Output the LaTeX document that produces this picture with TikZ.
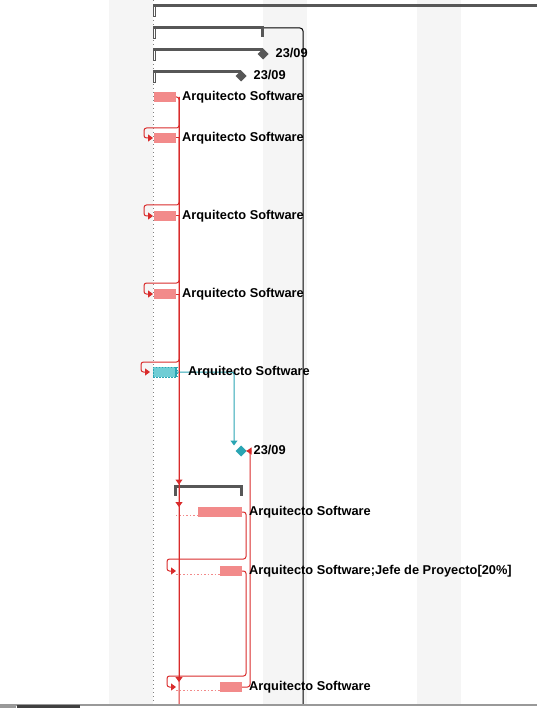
\documentclass[tikz,border=0pt]{standalone}
\usepackage{fontspec}
\setmainfont{Liberation Sans}
\usetikzlibrary{positioning,calc,arrows.meta,shapes.geometric}

\definecolor{stripegray}{HTML}{F5F5F5}
\definecolor{sumgray}{HTML}{575757}
\definecolor{barpink}{HTML}{F28A8A}
\definecolor{depred}{HTML}{D92B2B}
\definecolor{tealfill}{HTML}{6FCDD5}
\definecolor{tealdark}{HTML}{2AA5B3}

\tikzset{
  sumbar/.style={rectangle, fill=sumgray, minimum height=3pt, inner sep=0pt, outer sep=0pt},
  taskbar/.style={rectangle, fill=barpink, minimum height=10pt, inner sep=0pt, outer sep=0pt},
  milestone/.style={diamond, fill=sumgray, minimum size=11pt, inner sep=0pt, outer sep=0pt},
  lbl/.style={font=\fontsize{12.8}{14}\selectfont\bfseries, inner sep=0pt},
  depline/.style={draw=depred, line width=1pt, rounded corners=2.5pt},
  dep/.style={depline, -{Triangle[length=5pt,width=7pt]}},
  tealdep/.style={draw=tealdark, line width=1pt, rounded corners=2.5pt, -{Triangle[length=5pt,width=7pt]}},
  slack/.style={draw=barpink, line width=1pt, dash pattern=on 1.5pt off 2pt},
}

\begin{document}
\begin{tikzpicture}[x=1pt, y=-1pt]
    \useasboundingbox (0,0) rectangle (537,708);
    \foreach \x in {109,263,417}
        \fill[stripegray] (\x,0) rectangle ++(44,704);
    \draw[gray, line width=1pt, dash pattern=on 1pt off 3pt] (153.5,0) -- (153.5,704);

    \node[sumbar, anchor=west, minimum width=384pt] (sum1) at (153,6) {};
    \node[sumbar, anchor=west, minimum width=111pt] (sum2) at (153,28) {};
    \node[sumbar, anchor=west, minimum width=110pt] (sum3) at (153,50) {};
    \node[sumbar, anchor=west, minimum width=88pt] (sum4) at (153,72) {};
    \draw[sumgray, line width=0.8pt] (sum1.west) rectangle ++(2.5,10);
    \draw[sumgray, line width=0.8pt] (sum2.west) rectangle ++(2.5,10);
    \draw[sumgray, line width=0.8pt] (sum3.west) rectangle ++(2.5,10);
    \draw[sumgray, line width=0.8pt] (sum4.west) rectangle ++(2.5,10);
    \fill[sumgray] (sum2.east) rectangle ++(-3,9);

    \coordinate (rightend) at (303,704);
    \draw[line width=1pt, rounded corners=3pt] (sum2.east) -| (rightend);

    \node[milestone] (m3) at (263,54) {};
    \node[lbl, right=7pt of m3, yshift=1.5pt] {23/09};
    \node[milestone] (m4) at (241,76) {};
    \node[lbl, right=7pt of m4, yshift=1.5pt] {23/09};

    \node[taskbar, anchor=west, minimum width=22pt] (t5) at (154,97) {};
    \node[taskbar, anchor=west, minimum width=22pt] (t6) at (154,138) {};
    \node[taskbar, anchor=west, minimum width=22pt] (t7) at (154,216) {};
    \node[taskbar, anchor=west, minimum width=22pt] (t8) at (154,294) {};
    \node[taskbar, anchor=west, minimum width=24pt, fill=tealfill, draw=tealdark,
          line width=1pt, dash pattern=on 1.5pt off 1.5pt] (t9) at (153,372) {};
    \draw[tealdark, line width=2.5pt] ([xshift=-1.2pt]t9.north east) -- ([xshift=-1.2pt]t9.south east);

    \node[milestone, fill=tealdark] (m10) at (241,451) {};
    \node[lbl, right=7pt of m10, yshift=1pt] {23/09};

    \node[sumbar, anchor=west, minimum width=69pt] (sum11) at (174,486) {};
    \fill[sumgray] (sum11.west) rectangle ++(3,10);
    \fill[sumgray] (sum11.east) rectangle ++(-3,10);

    \node[taskbar, anchor=west, minimum width=44pt] (t12) at (198,512) {};
    \node[taskbar, anchor=west, minimum width=22pt] (t13) at (220,571) {};
    \node[taskbar, anchor=west, minimum width=22pt] (t14) at (220,687) {};
    \coordinate (s13) at ($(t13.west)+(-44,0)$);
    \coordinate (s14) at ($(t14.west)+(-44,0)$);
    \draw[slack] ([yshift=1.5pt]t12.south west) -- ++(-22,0);
    \draw[slack] ([yshift=-3.5pt]s13) -- ([yshift=1.5pt]t13.south west);
    \draw[slack] ([yshift=-3.5pt]s14) -- ([yshift=1.5pt]t14.south west);

    \coordinate (trunk) at ($(t5.east)+(3,0)$);
    \draw[depline] (t5.east) -- (trunk) -- (trunk |- rightend);
    \draw[dep] (trunk) |- ([shift={(-10pt,10pt)}]t6.west) |- ([xshift=-1pt]t6.west);
    \draw[depline] (t6.east) -- (t6.east -| trunk);
    \draw[dep] (t6.east -| trunk) |- ([shift={(-10pt,11pt)}]t7.west) |- ([xshift=-1pt]t7.west);
    \draw[depline] (t7.east) -- (t7.east -| trunk);
    \draw[dep] (t7.east -| trunk) |- ([shift={(-10pt,11pt)}]t8.west) |- ([xshift=-1pt]t8.west);
    \draw[depline] (t8.east) -- (t8.east -| trunk);
    \draw[dep] (t8.east -| trunk) |- ([shift={(-12pt,10pt)}]t9.west) |- ([xshift=-3pt]t9.west);
    \draw[tealdep] (t9.east) -| ([xshift=-7pt]m10.north);

    \draw[dep] (trunk) -- (trunk |- sum11.north);
    \draw[dep] (trunk) -- (trunk |- t12.north);
    \draw[dep] (trunk) -- (trunk |- t14.north);
    \draw[dep] (t12.east) -- ++(4,0) |- ([shift={(-9pt,12pt)}]s13) |- (s13);
    \draw[dep] (t13.east) -- ++(4,0) |- ([shift={(-9pt,11pt)}]s14) |- (s14);
    \draw[dep] (t14.east) -- ++(8,0) |- (m10.east);

    \node[lbl, right=6pt of t5] (l5) {Arquitecto Software};
    \node[lbl, right=6pt of t6] (l6) {Arquitecto Software};
    \node[lbl, right=6pt of t7] (l7) {Arquitecto Software};
    \node[lbl, right=6pt of t8] (l8) {Arquitecto Software};
    \node[lbl, right=11pt of t9] (l9) {Arquitecto Software};
    \node[lbl, right=7pt of t12] (l12) {Arquitecto Software};
    \node[lbl, right=7pt of t13] (l13) {Arquitecto Software;Jefe de Proyecto[20\%]};
    \node[lbl, right=7pt of t14] (l14) {Arquitecto Software};

    \draw[gray!80, line width=1.2pt] (0,705) -- (537,705);
    \fill[black!75] (17,705) rectangle (80,708);
    \fill[gray!80] (0,705) rectangle (16,708);
\end{tikzpicture}
\end{document}
